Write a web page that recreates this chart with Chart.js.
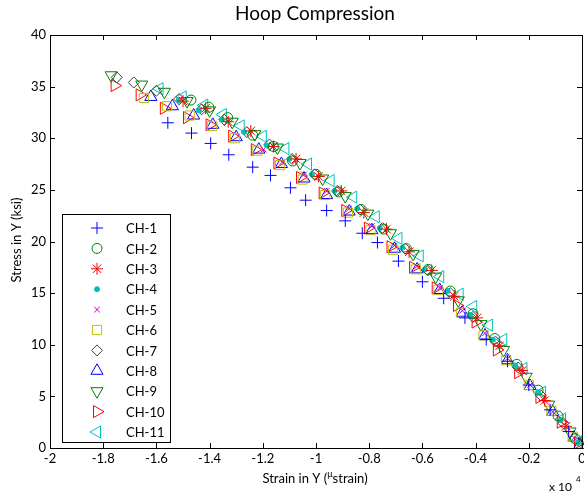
<!DOCTYPE html>
<html lang="en">
<head>
    <meta charset="UTF-8">
    <title>Hoop Compression</title>
    <script src="https://cdn.jsdelivr.net/npm/chart.js@4.4.1/dist/chart.umd.min.js"></script>
    <style>
        html, body {
            margin: 0;
            padding: 0;
            background-color: #ffffff;
        }
        .wrap {
            width: 584px;
            height: 494px;
        }
    </style>
</head>
<body>
    <div class="wrap"><canvas id="hoopChart" width="584" height="494"></canvas></div>

    <script>
        // Strain in microstrain, stress in ksi for each gauge channel
        const ch1Strain = [-15570, -14680, -13960, -13280, -12380, -11710, -10960, -10390, -9600, -8900, -8260, -7690, -6900, -6000, -5200, -4400, -3600, -2800, -2000, -1200, -500];
        const ch1Stress = [31.5, 30.5, 29.5, 28.4, 27.2, 26.4, 25.2, 24.0, 23.0, 22.0, 20.8, 19.9, 18.1, 16.1, 14.5, 12.6, 10.5, 8.4, 6.1, 3.7, 1.6];

        const ch2Strain = [-14700, -14030, -13320, -12380, -11600, -10880, -10000, -9150, -8300, -7450, -6600, -5780, -4950, -4100, -3280, -2450, -1650, -900, -250];
        const ch2Stress = [33.7, 33.0, 32.0, 30.3, 29.2, 27.8, 26.5, 24.8, 23.1, 21.2, 19.3, 17.3, 15.2, 13.0, 10.6, 8.1, 5.6, 3.1, 0.9];

        const ch3Strain = [-15000, -14150, -13300, -12450, -11600, -10750, -9900, -9050, -8200, -7350, -6500, -5650, -4800, -3950, -3100, -2250, -1400, -600];
        const ch3Stress = [33.6, 32.9, 31.6, 30.7, 29.2, 28.0, 26.3, 24.9, 22.8, 21.2, 19.0, 17.2, 14.7, 12.6, 9.9, 7.5, 4.6, 2.1];

        const ch4Strain = [-15160, -14400, -13550, -12700, -11850, -11000, -10150, -9300, -8450, -7600, -6750, -5900, -5050, -4200, -3350, -2500, -1650, -800, -150];
        const ch4Stress = [33.7, 32.7, 31.8, 30.6, 29.3, 28.0, 26.5, 24.9, 23.2, 21.3, 19.4, 17.3, 15.2, 12.9, 10.5, 8.0, 5.4, 2.7, 0.5];

        const ch5Strain = [-11970, -11260, -10450, -9600, -8750, -7900, -7050, -6200, -5350, -4500, -3650, -2800, -1950, -1100, -300];
        const ch5Stress = [28.9, 27.7, 26.5, 24.9, 23.2, 21.5, 19.6, 17.6, 15.5, 13.3, 11.1, 8.7, 6.1, 3.5, 1.0];

        const ch6Strain = [-16470, -15600, -14750, -13900, -13050, -12200, -11350, -10500, -9650, -8800, -7950, -7100, -6250, -5400, -4550, -3700, -2850, -2000, -1150, -350];
        const ch6Stress = [33.9, 33.1, 32.2, 31.2, 30.0, 28.8, 27.4, 26.0, 24.5, 22.8, 21.1, 19.2, 17.3, 15.3, 13.1, 10.9, 8.5, 6.1, 3.6, 1.1];

        const ch7Strain = [-17490, -16850, -16000, -15150, -14300, -13450, -12600, -11750, -10900, -10050, -9200, -8350, -7500, -6650, -5800, -4950, -4100, -3250, -2400, -1550, -700];
        const ch7Stress = [35.9, 35.4, 34.6, 33.8, 32.8, 31.8, 30.6, 29.4, 28.0, 26.5, 24.9, 23.1, 21.3, 19.3, 17.2, 15.0, 12.7, 10.3, 7.8, 5.1, 2.4];

        const ch8Strain = [-16210, -15400, -14600, -13880, -13000, -12150, -11300, -10450, -9600, -8750, -7900, -7050, -6200, -5350, -4500, -3650, -2800, -1950, -1100, -300, -80];
        const ch8Stress = [34.0, 33.1, 32.2, 31.3, 30.1, 28.9, 27.5, 26.1, 24.5, 22.9, 21.1, 19.3, 17.3, 15.3, 13.1, 10.9, 8.5, 6.0, 3.5, 1.0, 0.3];

        const ch9Strain = [-17700, -16550, -15700, -14850, -14000, -13150, -12300, -11450, -10600, -9750, -8900, -8050, -7200, -6350, -5500, -4650, -3800, -2950, -2100, -1250, -450];
        const ch9Stress = [36.1, 35.2, 34.5, 33.6, 32.7, 31.6, 30.4, 29.1, 27.6, 26.1, 24.4, 22.7, 20.8, 18.8, 16.6, 14.3, 12.0, 9.5, 6.9, 4.2, 1.6];

        const ch10Strain = [-17570, -16630, -15720, -14850, -14000, -13150, -12300, -11450, -10600, -9750, -8900, -8050, -7200, -6350, -5500, -4700, -4000, -3200, -2400, -1600, -800, -150];
        const ch10Stress = [35.1, 34.2, 32.9, 32.0, 31.3, 30.2, 28.9, 27.6, 26.2, 24.7, 23.0, 21.3, 19.5, 17.5, 15.5, 13.8, 12.2, 9.5, 7.3, 4.9, 2.5, 0.5];

        const ch11Strain = [-15880, -15010, -14200, -13500, -12830, -12000, -11150, -10300, -9450, -8600, -7750, -6900, -6100, -5330, -4600, -4090, -3500, -2960, -2200, -1500, -750, -150];
        const ch11Stress = [34.8, 34.0, 33.2, 32.3, 31.2, 30.2, 29.0, 27.5, 25.9, 24.3, 22.4, 20.3, 18.6, 16.6, 14.9, 13.7, 11.9, 10.5, 7.7, 5.4, 2.8, 0.6];

        const channelLabels = ['CH-1', 'CH-2', 'CH-3', 'CH-4', 'CH-5', 'CH-6', 'CH-7', 'CH-8', 'CH-9', 'CH-10', 'CH-11'];

        // marker look for each channel, in the same order as the labels
        const markers = [
            { style: 'cross',    color: '#0000ff', radius: 6,   rotation: 0,   filled: false },
            { style: 'circle',   color: '#008000', radius: 5,   rotation: 0,   filled: false },
            { style: 'star',     color: '#ff0000', radius: 6,   rotation: 0,   filled: false },
            { style: 'circle',   color: '#00bfbf', radius: 2.5, rotation: 0,   filled: true },
            { style: 'crossRot', color: '#bf00bf', radius: 4,   rotation: 0,   filled: false },
            { style: 'rect',     color: '#bfbf00', radius: 6.5, rotation: 0,   filled: false },
            { style: 'rectRot',  color: '#404040', radius: 5.5, rotation: 0,   filled: false },
            { style: 'triangle', color: '#0000ff', radius: 7,   rotation: 0,   filled: false },
            { style: 'triangle', color: '#008000', radius: 7,   rotation: 180, filled: false },
            { style: 'triangle', color: '#ff0000', radius: 7,   rotation: 90,  filled: false },
            { style: 'triangle', color: '#00bfbf', radius: 7,   rotation: 270, filled: false }
        ];

        const strainSeries = [ch1Strain, ch2Strain, ch3Strain, ch4Strain, ch5Strain, ch6Strain, ch7Strain, ch8Strain, ch9Strain, ch10Strain, ch11Strain];
        const stressSeries = [ch1Stress, ch2Stress, ch3Stress, ch4Stress, ch5Stress, ch6Stress, ch7Stress, ch8Stress, ch9Stress, ch10Stress, ch11Stress];

        const FONT = 'Lato, "Open Sans", sans-serif';

        // strain tick labels are shown in units of 10^4
        const strainLabel = v => String(Number((v / 10000).toFixed(1)));

        const datasets = channelLabels.map((label, i) => {
            const m = markers[i];
            return {
                label: label,
                data: strainSeries[i].map((x, j) => ({ x: x, y: stressSeries[i][j] })),
                showLine: false,
                pointStyle: m.style,
                pointRadius: m.radius,
                pointHoverRadius: m.radius,
                pointRotation: m.rotation,
                pointBorderColor: m.color,
                pointBackgroundColor: m.filled ? m.color : 'rgba(0,0,0,0)',
                pointBorderWidth: 1,
                clip: false
            };
        });

        // box round the axes with small inward ticks on every side, like a Matlab figure
        const framePlugin = {
            id: 'frame',
            afterDatasetsDraw(chart) {
                const ctx = chart.ctx;
                const a = chart.chartArea;
                const xs = chart.scales.x;
                const ys = chart.scales.y;
                const len = 5;
                ctx.save();
                ctx.strokeStyle = '#000';
                ctx.lineWidth = 1;
                ctx.beginPath();
                xs.ticks.forEach(t => {
                    const px = Math.round(xs.getPixelForValue(t.value)) + 0.5;
                    ctx.moveTo(px, a.bottom); ctx.lineTo(px, a.bottom - len);
                    ctx.moveTo(px, a.top); ctx.lineTo(px, a.top + len);
                });
                ys.ticks.forEach(t => {
                    const py = Math.round(ys.getPixelForValue(t.value)) + 0.5;
                    ctx.moveTo(a.left, py); ctx.lineTo(a.left + len, py);
                    ctx.moveTo(a.right, py); ctx.lineTo(a.right - len, py);
                });
                ctx.stroke();
                ctx.strokeRect(Math.round(a.left) + 0.5, Math.round(a.top) + 0.5, Math.round(a.right - a.left), Math.round(a.bottom - a.top));

                // strain tick labels, drawn here so the last one may run to the canvas edge
                ctx.fillStyle = '#000';
                ctx.font = '13px ' + FONT;
                ctx.textAlign = 'center';
                ctx.textBaseline = 'top';
                xs.ticks.forEach(t => {
                    ctx.fillText(strainLabel(t.value), xs.getPixelForValue(t.value), a.bottom + 4);
                });
                ctx.restore();
            }
        };

        // titles, exponent note and the boxed legend in the lower left corner
        const annotatePlugin = {
            id: 'annotate',
            afterDraw(chart) {
                const ctx = chart.ctx;
                ctx.save();
                ctx.fillStyle = '#000';

                ctx.font = '19px ' + FONT;
                ctx.textAlign = 'center';
                ctx.textBaseline = 'middle';
                ctx.fillText('Hoop Compression', 315, 14);

                ctx.font = '13px ' + FONT;
                ctx.save();
                ctx.translate(17, 240);
                ctx.rotate(-Math.PI / 2);
                ctx.fillText('Stress in Y (ksi)', 0, 0);
                ctx.restore();

                // x title with a raised mu, as the original renders it
                const left = 'Strain in Y (';
                const right = 'strain)';
                ctx.font = '13px ' + FONT;
                const wl = ctx.measureText(left).width;
                const wr = ctx.measureText(right).width;
                ctx.font = '9px ' + FONT;
                const wm = ctx.measureText('\u03bc').width;
                const x0 = 315 - (wl + wm + wr) / 2;
                ctx.textAlign = 'left';
                ctx.font = '13px ' + FONT;
                ctx.fillText(left, x0, 479);
                ctx.font = '9px ' + FONT;
                ctx.fillText('\u03bc', x0 + wl, 474);
                ctx.font = '13px ' + FONT;
                ctx.fillText(right, x0 + wl + wm, 479);

                ctx.font = '12px ' + FONT;
                ctx.fillText('x 10', 549, 487);
                ctx.font = '8px ' + FONT;
                ctx.fillText('4', 576, 479);

                // legend
                const lx = 62, ly = 214, lw = 108, lh = 228;
                ctx.fillStyle = '#fff';
                ctx.fillRect(lx, ly, lw, lh);
                ctx.strokeStyle = '#000';
                ctx.lineWidth = 1;
                ctx.strokeRect(lx + 0.5, ly + 0.5, lw, lh);
                channelLabels.forEach((label, i) => {
                    const m = markers[i];
                    const y = 228 + i * 20.4;
                    ctx.strokeStyle = m.color;
                    ctx.fillStyle = m.filled ? m.color : 'rgba(0,0,0,0)';
                    ctx.lineWidth = 1;
                    Chart.helpers.drawPoint(ctx, { pointStyle: m.style, rotation: m.rotation, radius: m.radius, borderWidth: 1 }, 97, y);
                    ctx.fillStyle = '#000';
                    ctx.font = '13px ' + FONT;
                    ctx.textAlign = 'left';
                    ctx.textBaseline = 'middle';
                    ctx.fillText(label, 126, y + 1);
                });
                ctx.restore();
            }
        };

        const ctx = document.getElementById('hoopChart').getContext('2d');
        const hoopChart = new Chart(ctx, {
            type: 'scatter',
            data: { datasets: datasets },
            options: {
                responsive: false,
                animation: false,
                devicePixelRatio: 1,
                layout: { autoPadding: false, padding: { top: 35, right: 2, left: 0, bottom: 0 } },
                plugins: {
                    legend: { display: false },
                    title: { display: false },
                    tooltip: { enabled: false }
                },
                scales: {
                    x: {
                        type: 'linear',
                        min: -20000,
                        max: 0,
                        grid: { display: false, drawTicks: false },
                        border: { display: false },
                        ticks: {
                            display: false,
                            stepSize: 2000,
                            callback: strainLabel
                        },
                        afterFit: scale => {
                            scale.height = 46;
                            scale.paddingLeft = 0;
                            scale.paddingRight = 0;
                        }
                    },
                    y: {
                        type: 'linear',
                        min: 0,
                        max: 40,
                        grid: { display: false, drawTicks: false },
                        border: { display: false },
                        ticks: {
                            stepSize: 5,
                            padding: 4,
                            color: '#000',
                            font: { family: FONT, size: 13 }
                        },
                        afterFit: scale => {
                            scale.width = 50;
                            scale.paddingTop = 0;
                            scale.paddingBottom = 0;
                        }
                    }
                }
            },
            plugins: [framePlugin, annotatePlugin]
        });
    </script>
</body>
</html>
